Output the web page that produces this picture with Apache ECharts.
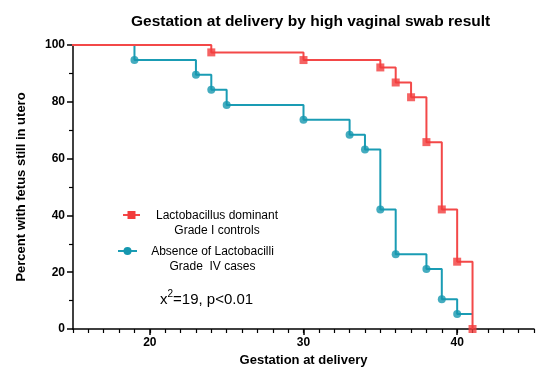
<!DOCTYPE html>
<html>
<head>
<meta charset="utf-8">
<script src="https://cdn.jsdelivr.net/npm/echarts@6/dist/echarts.min.js"></script>
<style>html,body{margin:0;padding:0;background:#fff;}#c{width:550px;height:379px;}</style>
</head>
<body>
<div id="c"></div>
<script>
// Kaplan-Meier steps: time (weeks) and percent still in utero after each time
const controlTimes = [0, 24, 30, 35, 36, 37, 38, 39, 40, 41];
const controlPct   = [100, 97.4, 94.7, 92.1, 86.8, 81.6, 65.8, 42.1, 23.7, 0];
const caseTimes = [0, 19, 23, 24, 25, 30, 33, 34, 35, 36, 38, 39, 40, 41];
const casePct   = [100, 94.7, 89.5, 84.2, 78.9, 73.7, 68.4, 63.2, 42.1, 26.3, 21.1, 10.5, 5.3, 5.3];
// marker indices (events) — cases last point at 41 is censored (no marker)
const controlMarkerIdx = [1, 2, 3, 4, 5, 6, 7, 8, 9];
const caseMarkerIdx = [1, 2, 3, 4, 5, 6, 7, 8, 9, 10, 11, 12];
const xLabels = [20, 30, 40];
const seriesNames = ['Lactobacillus dominant\nGrade I controls', 'Absence of Lactobacilli\nGrade  IV cases'];

const RED = '#F34848', TEAL = '#1A9CB4';
const pts = (t, p) => t.map((v, i) => [v, p[i]]);
const mk = (t, p, idx) => idx.map(i => [t[i], p[i]]);

const chart = echarts.init(document.getElementById('c'));
const font = 'Arial, "Liberation Sans", sans-serif';
const legendText = (txt, x, y) => ({
  type: 'text', x: x, y: y,
  style: {text: txt, fontFamily: font, fontSize: 12, fill: '#000', align: 'center', verticalAlign: 'top', lineHeight: 15}
});
chart.setOption({
  animation: false,
  title: {
    text: 'Gestation at delivery by high vaginal swab result',
    left: 126, top: 9,
    textStyle: {fontFamily: font, fontSize: 15.5, fontWeight: 'bold', color: '#000'}
  },
  grid: {left: 73, right: 16, top: 45, bottom: 50},
  xAxis: [{
    type: 'value', min: 15, max: 45,
    name: 'Gestation at delivery', nameLocation: 'middle', nameGap: 25,
    nameTextStyle: {fontFamily: font, fontSize: 13, fontWeight: 'bold', color: '#000'},
    axisLine: {lineStyle: {color: '#000', width: 1.5}},
    axisTick: {customValues: xLabels, length: 6, lineStyle: {color: '#000', width: 1.5}},
    axisLabel: {customValues: xLabels, fontFamily: font, fontSize: 12, fontWeight: 'bold', color: '#000', margin: 8},
    splitLine: {show: false}
  }, {
    type: 'value', min: 15, max: 45, interval: 1, position: 'bottom',
    axisLine: {show: false},
    axisTick: {length: 4, lineStyle: {color: '#000', width: 1.2}},
    axisLabel: {show: false},
    splitLine: {show: false}
  }],
  yAxis: {
    type: 'value', min: 0, max: 100, interval: 20,
    name: 'Percent with fetus still in utero', nameLocation: 'middle', nameGap: 45,
    nameTextStyle: {fontFamily: font, fontSize: 13, fontWeight: 'bold', color: '#000'},
    axisLine: {show: true, lineStyle: {color: '#000', width: 1.5}},
    axisTick: {show: true, length: 6, lineStyle: {color: '#000', width: 1.5}},
    minorTick: {show: true, splitNumber: 2, length: 4, lineStyle: {color: '#000', width: 1.2}},
    axisLabel: {fontFamily: font, fontSize: 12, fontWeight: 'bold', color: '#000', margin: 8},
    splitLine: {show: false}
  },
  graphic: [
    {type: 'line', shape: {x1: 123, y1: 215, x2: 140, y2: 215}, style: {stroke: RED, lineWidth: 2}},
    {type: 'rect', shape: {x: 127.5, y: 211, width: 8, height: 8}, style: {fill: '#F23C3C'}},
    legendText(seriesNames[0], 217, 208),
    {type: 'line', shape: {x1: 118, y1: 251, x2: 137, y2: 251}, style: {stroke: TEAL, lineWidth: 2}},
    {type: 'circle', shape: {cx: 127.5, cy: 251, r: 4}, style: {fill: '#1597AF'}},
    legendText(seriesNames[1], 212.5, 244.5),
    {
      type: 'text', left: 160, top: 289,
      style: {
        text: '{b|x}{s|2}{b|=19, p<0.01}',
        rich: {
          b: {fontFamily: font, fontSize: 15, fill: '#000', verticalAlign: 'bottom'},
          s: {fontFamily: font, fontSize: 10, fill: '#000', verticalAlign: 'top', padding: [0,0,8,0]}
        }
      }
    }
  ],
  series: [
    {name: seriesNames[1], type: 'line', step: 'end', data: pts(caseTimes, casePct), symbol: 'none',
     lineStyle: {color: TEAL, width: 2}, itemStyle: {color: TEAL}, clip: true, z: 2},
    {name: seriesNames[1], type: 'scatter', data: mk(caseTimes, casePct, caseMarkerIdx), symbol: 'circle', symbolSize: 8,
     itemStyle: {color: '#1597AF'}, z: 3},
    {name: seriesNames[0], type: 'line', step: 'end', data: pts(controlTimes, controlPct), symbol: 'none',
     lineStyle: {color: RED, width: 2}, itemStyle: {color: RED}, clip: true, z: 4},
    {name: seriesNames[0], type: 'scatter', data: mk(controlTimes, controlPct, controlMarkerIdx), symbol: 'rect', symbolSize: 8,
     itemStyle: {color: '#F23C3C'}, z: 5, clip: false}
  ]
});
</script>
</body>
</html>
